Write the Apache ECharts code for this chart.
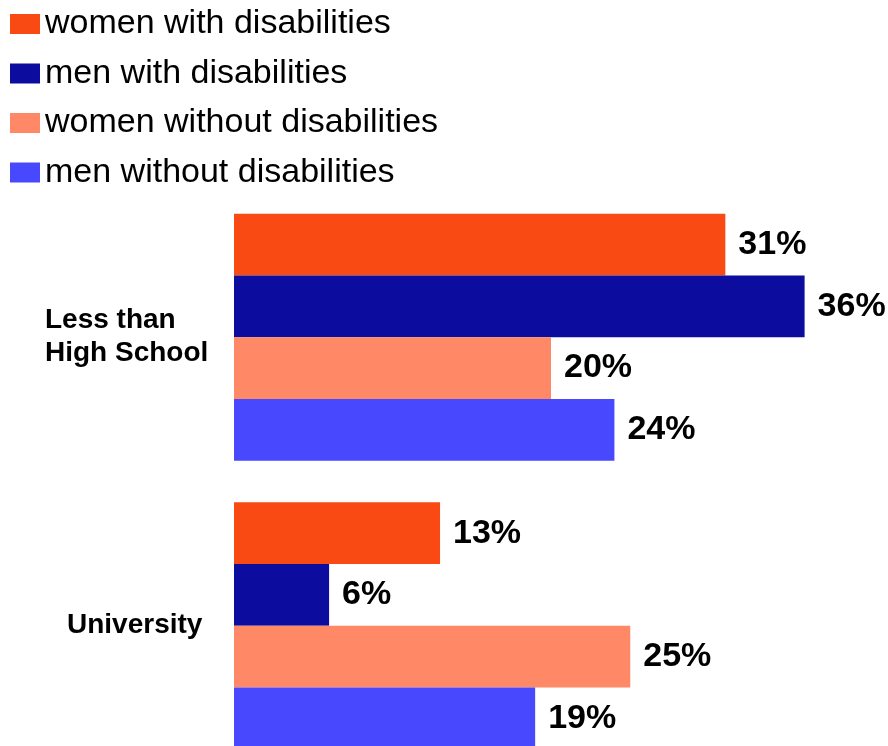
<!DOCTYPE html>
<html>
<head>
<meta charset="utf-8">
<script src="https://cdn.jsdelivr.net/npm/echarts@6/dist/echarts.min.js"></script>
<style>
  html, body { margin: 0; padding: 0; background: #fff; }
  #chart { width: 888px; height: 746px; }
</style>
</head>
<body>
<div id="chart"></div>
<script>
const categories = ['Less than\nHigh School', 'University'];
const seriesNames = ['women with disabilities', 'men with disabilities', 'women without disabilities', 'men without disabilities'];
const womenWith = [31, 13];
const menWith = [36, 6];
const womenWithout = [20, 25];
const menWithout = [24, 19];
const colors = ['#f84a12', '#0c0c9e', '#ff8866', '#4848ff'];

const font = '"Liberation Sans", Arial, sans-serif';
const values = [womenWith, menWith, womenWithout, menWithout];
const labelStyle = { align: 'left', fontFamily: font, fontSize: 28, fontWeight: 'bold', color: '#000', lineHeight: 33 };

const chart = echarts.init(document.getElementById('chart'));
chart.setOption({
  animation: false,
  legend: {
    orient: 'vertical', left: 5, top: 2,
    itemWidth: 30, itemHeight: 20, itemGap: 15.5,
    icon: 'rect',
    data: seriesNames,
    textStyle: { fontFamily: font, fontSize: 34, color: '#000' }
  },
  grid: { left: 234, top: 193, width: 634, height: 577, outerBoundsMode: 'none', containLabel: false },
  xAxis: { type: 'value', min: 0, max: 40, show: false },
  yAxis: {
    type: 'category', inverse: true,
    // University sits a little to the right of the block above it
    data: categories.map((c, i) => i === 1 ? { value: c, textStyle: Object.assign({}, labelStyle, { padding: [0, 0, 0, 22] }) } : c),
    axisLine: { show: false }, axisTick: { show: false },
    axisLabel: Object.assign({ margin: 189 }, labelStyle)
  },
  series: values.map((v, i) => ({
    name: seriesNames[i], type: 'bar', data: v,
    barGap: '0%', barCategoryGap: '14.4%',
    itemStyle: { color: colors[i] },
    label: { show: true, position: 'right', distance: 13, formatter: '{c}%', fontFamily: font, fontSize: 34, fontWeight: 'bold', color: '#000' }
  }))
});
</script>
</body>
</html>
